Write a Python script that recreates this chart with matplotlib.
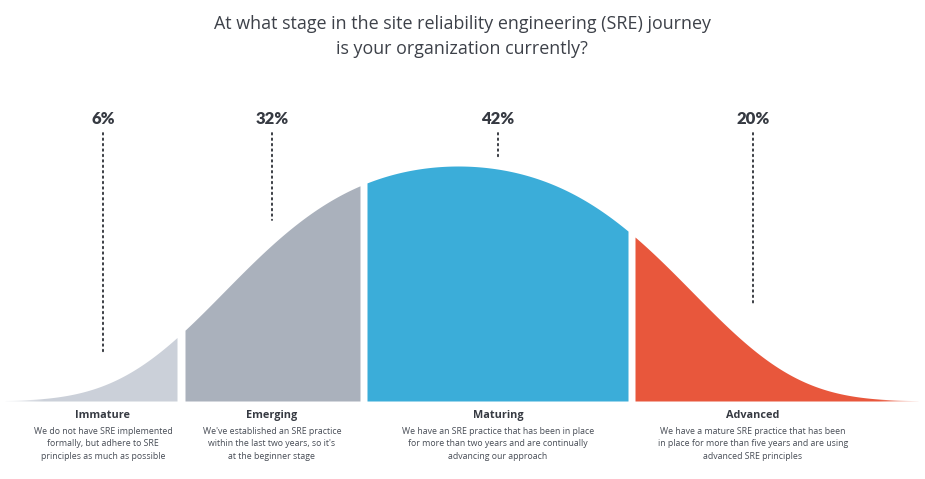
import numpy as np
import matplotlib
matplotlib.use("Agg")
import matplotlib.pyplot as plt

# ---- data ----
stages = ["Immature", "Emerging", "Maturing", "Advanced"]
shares = [6, 32, 42, 20]
descriptions = [
    "We do not have SRE implemented\nformally, but adhere to SRE\nprinciples as much as possible",
    "We've established an SRE practice\nwithin the last two years, so it's\nat the beginner stage",
    "We have an SRE practice that has been in place\nfor more than two years and are continually\nadvancing our approach",
    "We have a mature SRE practice that has been\nin place for more than five years and are using\nadvanced SRE principles",
]
title_lines = ["At what stage in the site reliability engineering (SRE) journey",
               "is your organization currently?"]

# ---- layout / style (pixel space) ----
colors = ["#CBD0D9", "#AAB1BC", "#3BADD9", "#E8573C"]
seg_edges = [(5, 177), (185, 360), (367, 628), (635, 918)]
label_x = [103, 272, 498, 753]
leader_bottom = [352, 220, 157, 306]
base_y = 401
peak_h, center, sigma, quart = 235, 458, 248, 311

W, H = 925, 479
fig = plt.figure(figsize=(W / 100, H / 100), dpi=100)
ax = fig.add_axes([0, 0, 1, 1])
ax.set_xlim(0, W)
ax.set_ylim(H, 0)
ax.axis("off")

font = "Open Sans"
dark = "#363A42"
grey = "#474C55"


def bell(x):
    d = x - center
    return peak_h * np.exp(-d ** 2 / (2 * sigma ** 2) - (d / quart) ** 4)


for (x0, x1), col in zip(seg_edges, colors):
    xs = np.linspace(x0, x1, 400)
    ax.fill_between(xs, base_y, base_y - bell(xs), color=col, linewidth=0)

# soft fade of the two tails
fade = np.linspace(1, 0, 64).reshape(1, -1)
white = np.ones((1, 64, 4))
white[..., 3] = fade
ax.imshow(white, extent=(0, 45, base_y + 1, base_y - 12), aspect="auto",
          interpolation="bilinear", zorder=3)
white_r = white[:, ::-1, :]
ax.imshow(white_r, extent=(878, 925, base_y + 1, base_y - 12), aspect="auto",
          interpolation="bilinear", zorder=3)
ax.set_xlim(0, W)
ax.set_ylim(H, 0)

# title
ax.text(462, 29, title_lines[0], ha="center", va="baseline",
        fontsize=12.9, color="#3D4149", family=font)
ax.text(462, 54, title_lines[1], ha="center", va="baseline",
        fontsize=12.9, color="#3D4149", family=font)

for i, (name, share, desc) in enumerate(zip(stages, shares, descriptions)):
    x = label_x[i]
    ax.text(x, 118.5, f"{share}%", ha="center", va="center", fontsize=12,
            fontweight="heavy", color=dark, family="Lato")
    ax.plot([x, x], [133, leader_bottom[i]], color="#2B2E35", linewidth=1.3,
            linestyle=(0, (0.9, 2.1)), dash_capstyle="round")
    ax.text(x, 415.5, name, ha="center", va="center", fontsize=7.8,
            fontweight="bold", color=dark, family=font)
    ax.text(x, 426.5, desc, ha="center", va="top", fontsize=6.35,
            color=grey, family=font, linespacing=1.55)

fig.savefig("out.png", dpi=100, facecolor="white")
